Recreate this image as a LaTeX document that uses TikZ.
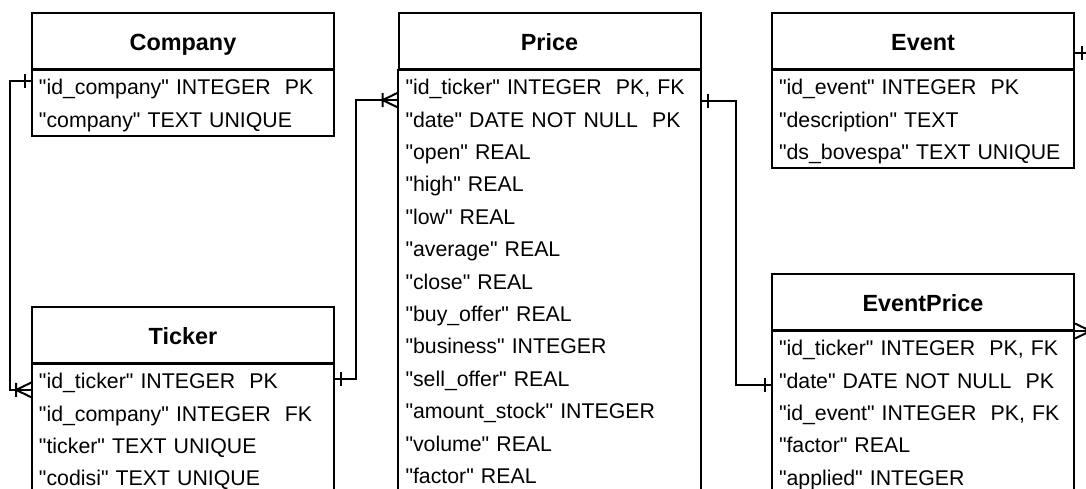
\documentclass[tikz,border=0pt]{standalone}
\usepackage{fontspec}
\setmainfont{Liberation Sans}[Ligatures=TeXOff]
\usepackage{tikz}
\usetikzlibrary{positioning}

\newcommand\tabfont{\fontsize{11.7}{14}\selectfont\bfseries}
\newcommand\fldfont{\fontsize{10.65}{13}\selectfont}

\begin{document}
\begin{tikzpicture}[x=0.5pt, y=-0.5pt,
    tbl/.style={draw, line width=1pt, minimum width=151pt, minimum height=28.25pt,
        inner sep=0pt, font=\tabfont, text height=12pt, text depth=2.5pt},
    fld/.style={minimum height=16.2pt, inner xsep=3.5pt, inner ysep=0pt, text width=144pt,
        align=left, font=\fldfont, text height=10.5pt, text depth=2.5pt},
    box/.style={draw, line width=1pt},
    rel/.style={line width=1pt},
    onemark/.pic={\draw[rel] (-7,-7) -- (-7,7);},
    manymark/.pic={\draw[rel] (-15.5,-7) -- (-15.5,7) (-15.5,0) -- (0,-7.5) (-15.5,0) -- (0,7.5);}]
\useasboundingbox (0,0) rectangle (1086,488);
\clip (0,0) rectangle (1086,488);

% tables
\node[tbl, anchor=north west] (company) at (31,11.5) {Company};
\foreach \f [count=\i] in {"id\_company" INTEGER~~PK, "company" TEXT UNIQUE}
    \node[fld, below=0pt of company, yshift={-(\i-1)*16.2pt}] (company-\i) {\f};
\draw[box] (company-1.north west) rectangle (company-2.south east);

\node[tbl, anchor=north west] (ticker) at (31,305.5) {Ticker};
\foreach \f [count=\i] in {"id\_ticker" INTEGER~~PK, "id\_company" INTEGER~~FK,
        "ticker" TEXT UNIQUE, "codisi" TEXT UNIQUE}
    \node[fld, below=0pt of ticker, yshift={-(\i-1)*16.2pt}] (ticker-\i) {\f};
\draw[box] (ticker-1.north west) rectangle (ticker-4.south east);

\node[tbl, anchor=north west] (price) at (397.5,11.5) {Price};
\foreach \f [count=\i] in {{"id\_ticker" INTEGER~~PK, FK}, "date" DATE NOT NULL~~PK,
        "open" REAL, "high" REAL, "low" REAL, "average" REAL, "close" REAL,
        "buy\_offer" REAL, "business" INTEGER, "sell\_offer" REAL,
        "amount\_stock" INTEGER, "volume" REAL, "factor" REAL}
    \node[fld, below=0pt of price, yshift={-(\i-1)*16.2pt}] (price-\i) {\f};
\draw[box] (price-1.north west) rectangle (price-13.south east);

\node[tbl, anchor=north west] (event) at (771,11.5) {Event};
\foreach \f [count=\i] in {"id\_event" INTEGER~~PK, "description" TEXT,
        "ds\_bovespa" TEXT UNIQUE}
    \node[fld, below=0pt of event, yshift={-(\i-1)*16.2pt}] (event-\i) {\f};
\draw[box] (event-1.north west) rectangle (event-3.south east);

\node[tbl, anchor=north west] (eventprice) at (771,272.5) {EventPrice};
\foreach \f [count=\i] in {{"id\_ticker" INTEGER~~PK, FK}, "date" DATE NOT NULL~~PK,
        {"id\_event" INTEGER~~PK, FK}, "factor" REAL, "applied" INTEGER}
    \node[fld, below=0pt of eventprice, yshift={-(\i-1)*16.2pt}] (eventprice-\i) {\f};
\draw[box] (eventprice-1.north west) rectangle (eventprice-5.south east);

% relations
\coordinate (co) at ([yshift=2.6pt]company-1.west);
\coordinate (tkl) at ([yshift=-4.65pt]ticker-1.west);
\draw[rel] (co) -- ++(-21.5,0) |- (tkl);
\pic at (co) {onemark};
\pic at (tkl) {manymark};

\coordinate (tkr) at ([yshift=0.6pt]ticker-1.east);
\coordinate (prl) at ([yshift=-6.75pt]price-1.west);
\draw[rel] (tkr) -- ++(21.5,0) |- (prl);
\pic[xscale=-1] at (tkr) {onemark};
\pic at (prl) {manymark};

\coordinate (prr) at ([yshift=-7pt]price-1.east);
\coordinate (epl) at ([yshift=-2.3pt]eventprice-2.west);
\draw[rel] (prr) -- ++(35.5,0) |- (epl);
\pic[xscale=-1] at (prr) {onemark};
\pic at (epl) {onemark};

\coordinate (evr) at ([yshift=-6pt]event.east);
\draw[rel] (evr) -- ++(40,0) |- (eventprice.south east);
\pic[xscale=-1] at (evr) {onemark};
\pic[xscale=-1] at (eventprice.south east) {manymark};
\end{tikzpicture}
\end{document}
